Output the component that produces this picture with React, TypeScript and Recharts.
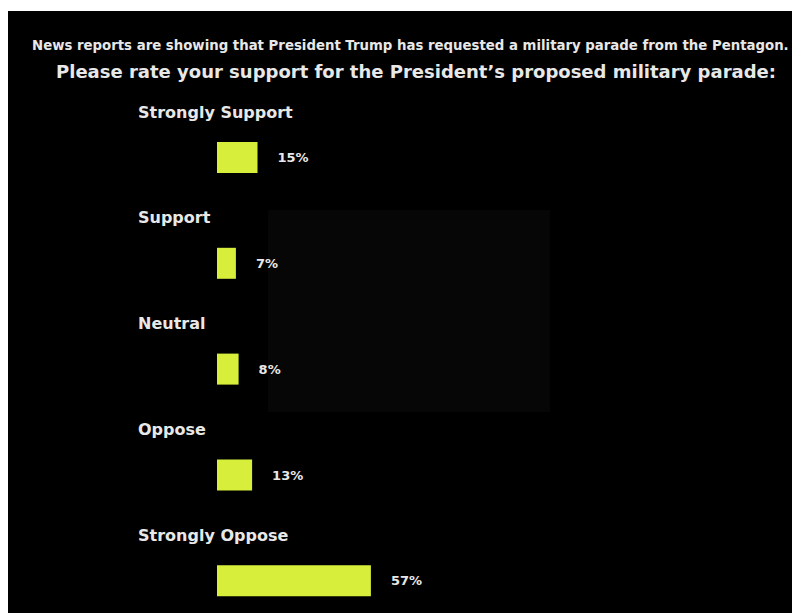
import { BarChart, Bar, XAxis, YAxis, LabelList } from "recharts";

// survey answers, top to bottom
const answers = [
  "Strongly Support",
  "Support",
  "Neutral",
  "Oppose",
  "Strongly Oppose",
];
const shares = [15, 7, 8, 13, 57];

const titleLine1 =
  "News reports are showing that President Trump has requested a military parade from the Pentagon.";
const titleLine2 =
  "Please rate your support for the President\u2019s proposed military parade:";

const data = answers.map((answer, i) => ({ answer, share: shares[i] }));

const FONT = "'DejaVu Sans', sans-serif";
const BAR_COLOR = "#d7ef3b";
const TEXT_COLOR = "#e8e8e8";

// answer text sits above its bar, a bit to the left of the bar start
const AnswerLabel = (props: any) => {
  const { x, y, height, value } = props;
  return (
    <text
      x={x - 79}
      y={y + height / 2 - 40}
      fill={TEXT_COLOR}
      fontFamily={FONT}
      fontWeight="bold"
      fontSize={16}
    >
      {value}
    </text>
  );
};

export default function App() {
  return (
    <div
      style={{
        position: "relative",
        width: 792,
        height: 602,
        marginTop: 3,
        background: "#000",
        overflow: "hidden",
        fontFamily: FONT,
      }}
    >
      {/* faint darker panel behind the middle bars */}
      <div
        style={{
          position: "absolute",
          left: 260,
          top: 199,
          width: 282,
          height: 202,
          background: "#060606",
        }}
      />
      <div
        style={{
          position: "absolute",
          left: 24,
          top: 27,
          color: TEXT_COLOR,
          fontWeight: "bold",
          fontSize: 13.3,
          whiteSpace: "nowrap",
        }}
      >
        {titleLine1}
      </div>
      <div
        style={{
          position: "absolute",
          left: 0,
          width: 792,
          top: 50,
          textAlign: "center",
          color: TEXT_COLOR,
          fontWeight: "bold",
          fontSize: 18,
          paddingLeft: 24,
          boxSizing: "border-box",
          whiteSpace: "nowrap",
        }}
      >
        {titleLine2}
      </div>

      <div style={{ position: "absolute", left: 0, top: 0 }}>
        <BarChart
          width={792}
          height={623}
          data={data}
          layout="vertical"
          margin={{ top: 94, right: 313, bottom: 0, left: 209 }}
        >
          <XAxis type="number" domain={[0, 100]} hide />
          <YAxis type="category" dataKey="answer" hide />
          <Bar dataKey="share" fill={BAR_COLOR} barSize={31} isAnimationActive={false}>
            <LabelList dataKey="answer" content={AnswerLabel} />
            <LabelList
              dataKey="share"
              position="right"
              offset={20}
              formatter={(v: any) => `${v}%`}
              fill={TEXT_COLOR}
              fontFamily={FONT}
              fontWeight="bold"
              fontSize={13}
            />
          </Bar>
        </BarChart>
      </div>
    </div>
  );
}
